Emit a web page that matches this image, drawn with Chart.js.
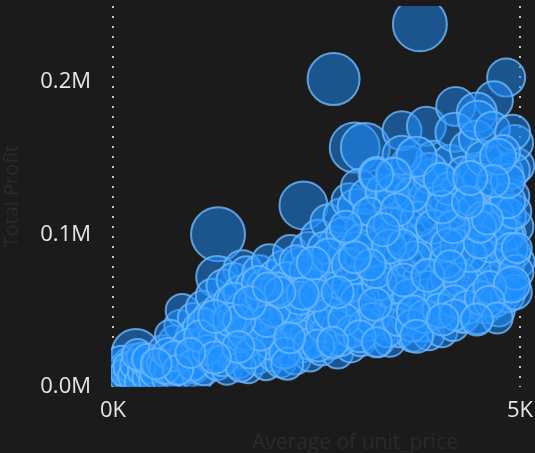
<!DOCTYPE html>
<html>
<head>
<meta charset="utf-8">
<style>
  html, body { margin: 0; padding: 0; background: #1b1b1b; overflow: hidden; }
  canvas { display: block; }
</style>
<script src="https://cdn.jsdelivr.net/npm/chart.js@4"></script>
</head>
<body>
<canvas id="chart" width="535" height="453"></canvas>
<script>
// Average of unit_price, in thousands
var avgUnitPrice = [
  0.28,1.29,1.28,1.59,2.34,2.71,3.77,2.97,3.10,3.55,3.85,4.21,4.83,4.68,4.47,
  4.96,4.94,4.97,4.90,4.95,4.86,4.92,4.88,4.60,4.30,
  0.08,0.12,0.15,0.18,0.20,0.22,0.25,0.27,0.30,0.10,0.14,0.19,0.24,0.28,0.33,0.36,0.40,0.43,0.46,0.50,0.35,0.30,0.42,0.52,
  0.55,0.60,0.62,0.66,0.70,0.72,0.75,0.78,0.80,0.82,0.85,0.88,0.90,0.93,0.96,0.98,1.00,1.02,1.04,1.05,1.08,1.10,0.70,0.64,0.92,
  1.12,1.15,1.18,1.20,1.22,1.25,1.28,1.30,1.32,1.35,1.38,1.40,1.42,1.44,1.46,1.48,1.50,1.52,1.54,1.56,1.58,1.60,1.62,1.64,1.66,1.68,1.70,1.72,1.74,1.76,1.78,1.80,
  1.82,1.84,1.86,1.88,1.90,1.92,1.94,1.96,1.98,2.00,2.02,2.04,2.06,2.08,2.10,2.12,2.14,2.16,2.18,2.20,2.22,2.24,2.26,2.28,2.30,2.32,2.34,2.36,2.38,2.40,2.42,2.44,2.46,2.48,2.50,
  2.52,2.54,2.56,2.58,2.60,2.62,2.64,2.66,2.68,2.70,2.72,2.74,2.76,2.78,2.80,2.82,2.84,2.86,2.88,2.90,2.92,2.94,2.96,2.98,3.00,3.02,3.04,3.06,3.08,3.10,3.12,3.14,3.16,3.18,3.20,
  3.22,3.24,3.26,3.28,3.30,3.32,3.34,3.36,3.38,3.40,3.42,3.44,3.45,3.48,3.50,3.52,3.54,3.56,3.58,3.60,3.62,3.64,3.66,3.68,3.70,3.72,3.74,3.76,3.78,3.80,3.82,3.84,3.86,3.88,3.90,
  3.92,3.94,3.96,3.98,4.00,4.02,4.04,4.06,4.08,4.10,4.12,4.14,4.16,4.18,4.20,4.22,4.24,4.26,4.28,4.30,4.32,4.34,4.36,4.38,4.40,4.42,4.44,4.46,4.47,4.48,
  4.52,4.54,4.56,4.58,4.60,4.62,4.64,4.66,4.68,4.70,4.72,4.74,4.76,4.78,4.80,4.82,4.84,4.86,4.88,4.90,
  1.37,2.05,2.63,3.47,4.11,4.33,3.07,1.73,2.27,2.91,3.61,3.95,4.57,2.43,1.11,0.87,1.63,2.13,3.33,3.79,4.25,4.71,2.77,3.15,3.91,
  4.41,1.49,2.59,3.01,3.53,4.07,4.63,1.95,2.37,2.83,3.27,3.71,4.17,4.51,1.23,0.67,1.83,3.41,3.87,4.27,4.83,2.99,2.21,3.63,4.37,
  0.75,0.98,1.16,1.34,1.07,1.43,1.57,1.69,1.81,1.97,2.11,2.29,2.41,2.57,2.67,2.79,2.93,3.09,3.19,3.37,3.51,3.67,3.83,4.01,4.19,4.35,4.53,4.69,4.85,4.93,
  2.49,2.65,2.89,3.05,3.23,3.39,3.57,3.75,3.93,4.09,4.23,4.39,4.55,4.75,4.89,4.95,4.93,4.85,3.43,3.67,3.89,4.13,4.31,4.55,4.85,
  1.89,2.01,1.55,1.79,2.25,
  3.55,3.73,4.48,4.66,4.91,4.79,4.73,4.67,
  2.14,2.33,2.05,2.46,3.16,2.97,3.56,4.11,4.51,4.96,3.87,4.14,4.63,4.90,4.62,3.69,4.20,4.72,3.22,2.84,2.76,3.03,3.24,2.52,2.70,
  3.73,2.17,4.05,4.47,3.49,3.32,2.86,4.51,4.60,4.18,4.05,4.36,3.45,3.24,4.02,4.39,1.68,1.25,1.54,1.25,0.80,0.53,0.95,1.90
];

// Total Profit, in millions
var totalProfit = [
  0.022,0.100,0.072,0.077,0.119,0.202,0.238,0.157,0.157,0.168,0.171,0.184,0.203,0.188,0.180,
  0.145,0.160,0.082,0.125,0.105,0.100,0.088,0.066,0.110,0.046,
  0.005,0.012,0.004,0.016,0.008,0.002,0.011,0.018,0.005,0.017,0.009,0.013,0.007,0.014,0.003,0.010,0.016,0.006,0.012,0.004,0.019,0.021,0.018,0.009,
  0.015,0.015,0.024,0.005,0.011,0.019,0.030,0.007,0.011,0.040,0.050,0.025,0.009,0.018,0.033,0.045,0.012,0.022,0.006,0.038,0.028,0.052,0.034,0.012,0.028,
  0.011,0.030,0.046,0.019,0.060,0.038,0.014,0.050,0.025,0.066,0.042,0.011,0.032,0.056,0.020,0.070,0.048,0.028,0.015,0.062,0.038,0.052,0.022,0.074,0.012,0.044,0.032,0.066,0.056,0.018,0.040,0.075,
  0.025,0.050,0.066,0.014,0.035,0.082,0.045,0.060,0.020,0.072,0.030,0.054,0.016,0.040,0.078,0.062,0.024,0.048,0.088,0.034,0.070,0.018,0.056,0.042,0.080,0.026,0.064,0.050,0.036,0.090,0.020,0.074,0.058,0.030,0.044,
  0.098,0.068,0.024,0.050,0.084,0.036,0.108,0.060,0.028,0.076,0.044,0.094,0.022,0.056,0.112,0.068,0.034,0.088,0.048,0.122,0.026,0.078,0.060,0.118,0.040,0.131,0.030,0.070,0.105,0.050,0.125,0.082,0.036,0.096,0.062,
  0.115,0.139,0.030,0.080,0.058,0.128,0.042,0.100,0.070,0.030,0.120,0.088,0.139,0.050,0.110,0.036,0.076,0.132,0.062,0.095,0.044,0.146,0.082,0.033,0.118,0.056,0.100,0.070,0.135,0.040,0.090,0.060,0.125,0.034,0.138,
  0.075,0.150,0.048,0.112,0.088,0.136,0.036,0.066,0.125,0.098,0.052,0.147,0.078,0.040,0.167,0.108,0.060,0.130,0.090,0.046,0.118,0.072,0.156,0.137,0.056,0.100,0.082,0.142,0.163,0.045,
  0.120,0.066,0.095,0.052,0.110,0.080,0.145,0.060,0.100,0.125,0.070,0.050,0.090,0.115,0.060,0.140,0.080,0.112,0.067,0.142,
  0.027,0.045,0.071,0.062,0.071,0.105,0.047,0.047,0.033,0.067,0.115,0.093,0.075,0.067,0.041,0.020,0.035,0.071,0.086,0.050,0.123,0.113,0.039,0.113,0.122,
  0.066,0.057,0.091,0.056,0.098,0.055,0.093,0.028,0.076,0.100,0.068,0.085,0.115,0.135,0.030,0.022,0.060,0.107,0.065,0.070,0.100,0.090,0.052,0.060,0.120,
  0.020,0.014,0.024,0.017,0.033,0.044,0.013,0.022,0.034,0.050,0.022,0.058,0.028,0.040,0.048,0.030,0.036,0.040,0.044,0.036,0.044,0.040,0.046,0.050,0.056,0.052,0.058,0.056,0.060,0.062,
  0.060,0.086,0.080,0.095,0.075,0.092,0.070,0.110,0.105,0.082,0.092,0.086,0.110,0.105,0.090,0.075,0.115,0.122,0.128,0.126,0.142,0.130,0.140,0.150,0.135,
  0.043,0.064,0.043,0.068,0.082,
  0.152,0.151,0.175,0.169,0.167,0.154,0.151,0.135,
  0.015,0.061,0.062,0.081,0.080,0.085,0.093,0.093,0.095,0.091,0.073,0.079,0.065,0.067,0.056,0.049,0.047,0.045,0.054,0.044,0.062,0.033,0.029,0.027,0.029,
  0.033,0.032,0.044,0.044,0.116,0.103,0.105,0.105,0.110,0.105,0.118,0.121,0.139,0.139,0.136,0.137,0.055,0.046,0.026,0.019,0.011,0.015,0.022,0.065
];

// Bubble size measure
var bubbleSize = [
  240,270,210,190,240,260,270,250,245,195,195,195,190,190,200,
  175,180,170,175,175,170,170,165,170,165,
  150,145,150,140,150,145,155,150,145,150,140,150,145,155,150,145,150,155,150,145,150,155,150,150,
  155,150,150,145,155,150,155,150,150,155,165,150,155,150,155,150,150,155,150,160,155,165,150,155,150,
  155,160,155,150,165,160,150,165,155,165,160,150,155,165,150,170,160,155,150,165,160,165,155,175,150,165,155,170,160,155,165,170,
  155,165,170,150,160,175,165,170,155,175,160,165,155,160,175,170,155,165,175,160,170,155,165,160,175,155,170,165,160,175,155,170,165,155,160,
  175,165,155,160,170,155,175,165,155,170,160,175,155,165,175,170,160,170,165,175,155,170,165,180,160,180,155,170,175,160,175,170,155,170,165,
  175,180,160,170,165,175,160,170,165,160,175,170,180,165,170,155,170,175,165,170,160,180,170,155,175,165,170,165,175,160,170,165,175,155,175,
  170,175,160,170,165,170,155,165,175,170,160,180,170,155,195,170,165,175,170,160,175,170,180,175,165,170,170,175,180,160,
  175,165,170,160,175,170,180,165,170,175,165,160,170,175,165,180,170,175,165,180,
  165,170,160,175,165,170,160,165,170,175,160,170,165,155,160,150,170,165,175,160,170,175,165,170,175,
  165,170,160,175,170,165,175,160,165,170,175,160,170,175,155,150,165,170,165,175,170,175,165,160,170,
  150,155,150,155,160,165,150,155,160,165,155,165,155,160,165,155,160,160,165,155,165,160,165,170,160,165,170,160,170,175,
  165,170,165,175,160,170,165,175,170,165,170,165,175,170,165,175,170,175,165,170,175,165,170,175,170,
  160,165,160,170,165,
  195,200,195,175,175,170,180,160,
  160,160,155,165,155,160,155,165,165,150,165,160,165,180,155,165,155,155,165,160,160,160,150,160,155,
  165,155,160,160,165,165,160,160,155,165,165,160,170,165,165,170,165,165,160,160,150,155,150,150
];

var xTickValues = [0, 5];
var yTickValues = [0, 0.1, 0.2];

var axisTitlePlugin = {
  id: 'xAxisTitle',
  afterDraw: function (chart) {
    var ctx = chart.ctx;
    ctx.save();
    ctx.font = "21px 'Open Sans'";
    ctx.fillStyle = '#2a2a2a';
    ctx.textAlign = 'center';
    ctx.textBaseline = 'middle';
    ctx.fillText('Average of unit_price', 355, 443);
    ctx.restore();
  }
};

function setTicks(values) {
  return function (scale) {
    scale.ticks = values.map(function (v) { return { value: v }; });
  };
}

// Pin the plot box: no extra room for the tick labels that hang over its edges
function pinScale(width, height) {
  return function (scale) {
    if (width) scale.width = width;
    if (height) scale.height = height;
    scale.paddingLeft = scale.paddingRight = scale.paddingTop = scale.paddingBottom = 0;
  };
}

var points = avgUnitPrice.map(function (x, i) {
  return { x: x, y: totalProfit[i], r: bubbleSize[i] / 10 };
});

new Chart(document.getElementById('chart').getContext('2d'), {
  type: 'bubble',
  data: {
    datasets: [{
      data: points,
      backgroundColor: 'rgba(30,144,255,0.5)',
      borderColor: 'rgba(110,185,255,0.8)',
      borderWidth: 2,
      clip: { left: 2, right: 20, top: 0, bottom: 0 }
    }]
  },
  plugins: [axisTitlePlugin],
  options: {
    responsive: false,
    animation: false,
    layout: { autoPadding: false, padding: { top: 6, right: 15, left: 0, bottom: 0 } },
    plugins: { legend: { display: false }, tooltip: { enabled: false } },
    scales: {
      x: {
        type: 'linear',
        min: 0,
        max: 5,
        afterBuildTicks: setTicks(xTickValues),
        afterFit: pinScale(0, 66.5),
        grid: {
          color: 'rgba(255,255,255,0.75)',
          lineWidth: 2,
          drawTicks: false
        },
        border: { display: false, dash: [2, 8] },
        ticks: {
          maxRotation: 0,
          padding: 11,
          color: '#e6e6e6',
          font: { family: "'Open Sans'", size: 22 },
          callback: function (v) { return v + 'K'; }
        }
      },
      y: {
        type: 'linear',
        min: 0,
        max: 0.25,
        afterBuildTicks: setTicks(yTickValues),
        afterFit: pinScale(113, 0),
        grid: { display: false, drawTicks: false },
        border: { display: false },
        title: {
          display: true,
          text: 'Total Profit',
          color: '#2a2a2a',
          font: { family: "'Open Sans'", size: 20 },
          padding: { top: 0, bottom: 0 }
        },
        ticks: {
          padding: 22,
          color: '#e6e6e6',
          font: { family: "'Open Sans'", size: 22 },
          callback: function (v) { return v.toFixed(1) + 'M'; }
        }
      }
    }
  }
});
</script>
</body>
</html>
